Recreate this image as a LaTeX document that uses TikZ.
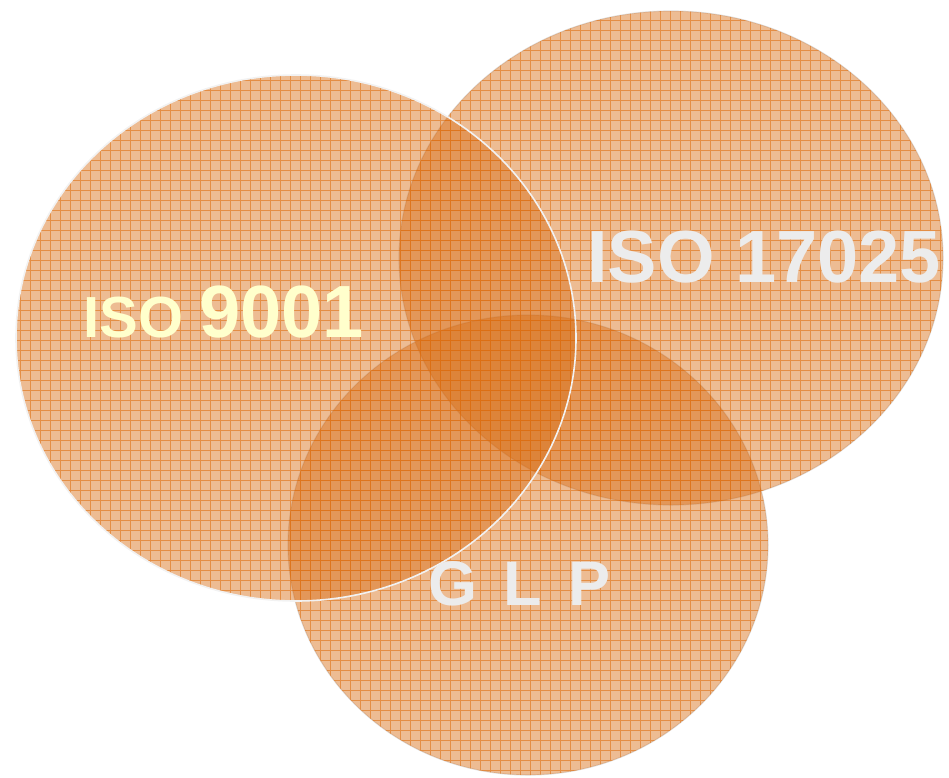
\documentclass[tikz,border=0pt]{standalone}
\usepackage{fontspec}
\setmainfont{Liberation Sans}
\definecolor{vfill}{RGB}{215,108,20}
\definecolor{vgrid}{RGB}{222,112,18}
\definecolor{rimgrey}{RGB}{225,225,225}
\definecolor{txtyellow}{RGB}{255,255,204}
\definecolor{txtgrey}{RGB}{236,236,236}
\newcommand\vennlayer[4]{%
  \fill[venn] (#1,#2) ellipse [x radius=#3, y radius=#4];
  \begin{scope}
    \clip (#1,#2) ellipse [x radius=#3, y radius=#4];
    \draw[gridline, step=10pt] (#1-#3,#2-#4) grid (#1+#3,#2+#4);
  \end{scope}}
\tikzset{
  venn/.style={fill=vfill, fill opacity=0.46},
  gridline/.style={draw=vgrid, line width=0.65pt, opacity=0.6},
  rim/.style={draw=rimgrey, line width=1.2pt},
  toprim/.style={draw=white!95!black, line width=1.6pt},
  vlabel/.style={font=\bfseries, inner sep=0pt, anchor=base west}
}
\begin{document}
\begin{tikzpicture}[x=1pt,y=-1pt]
\useasboundingbox (0,0) rectangle (949,777);
% outer rims of the two lower circles
\draw[rim] (671,258) ellipse [x radius=272, y radius=247];
\draw[rim] (528,545) ellipse [x radius=240, y radius=230];
% ISO 17025 circle
\vennlayer{671}{258}{272}{247}
% GLP circle
\vennlayer{528}{545}{240}{230}
% ISO 9001 circle (on top, white rim)
\vennlayer{296}{338}{280}{263}
\draw[toprim] (296,338) ellipse [x radius=280, y radius=263];
% labels
\node[vlabel, text=txtyellow] (iso9001) at (83,337)
  {{\fontsize{58}{58}\selectfont ISO }{\fontsize{74}{74}\selectfont 9001}};
\node[vlabel, text=txtgrey, font=\bfseries\fontsize{74}{74}\selectfont] (iso17025) at (587,282) {ISO 17025};
\node[vlabel, text=txtgrey, font=\bfseries\fontsize{63}{63}\selectfont] (glp) at (428,605) {G\hspace{0.42em}L\hspace{0.42em}P};
\end{tikzpicture}
\end{document}
